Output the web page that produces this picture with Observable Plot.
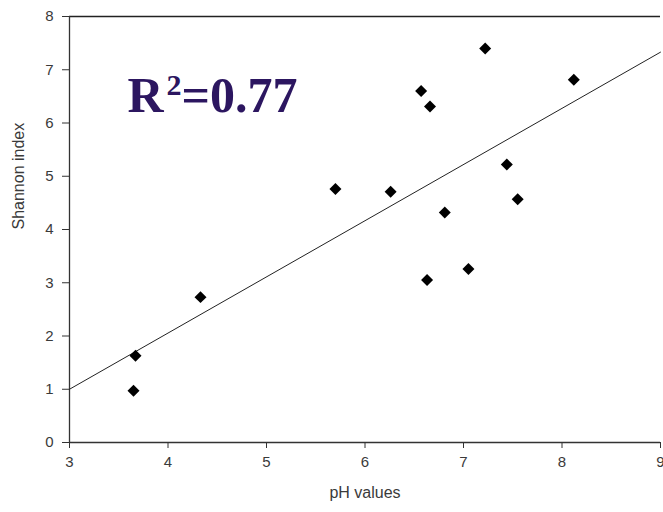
<!DOCTYPE html>
<html>
<head>
<meta charset="utf-8">
<script src="https://cdn.jsdelivr.net/npm/d3@7"></script>
<script src="https://cdn.jsdelivr.net/npm/@observablehq/plot@0.6"></script>
<style>
  html, body { margin: 0; padding: 0; background: #fff; overflow: hidden; }
  #chart svg { display: block; }
</style>
</head>
<body>
<div id="chart"></div>
<script>
// pH values (x) and Shannon index (y)
const phValues = [3.65, 3.67, 4.33, 5.70, 6.26, 6.57, 6.66, 6.63, 6.81, 7.05, 7.22, 7.44, 7.55, 8.12];
const shannon  = [0.97, 1.63, 2.73, 4.76, 4.71, 6.60, 6.31, 3.05, 4.32, 3.26, 7.40, 5.22, 4.57, 6.81];

// linear trend line endpoints
const trendX = [3, 9];
const trendY = [1.0, 7.33];

const xTicks = [3, 4, 5, 6, 7, 8, 9];
const yTicks = [0, 1, 2, 3, 4, 5, 6, 7, 8];

const points = phValues.map((x, i) => ({x, y: shannon[i]}));
const trend = trendX.map((x, i) => ({x, y: trendY[i]}));

const textColor = "#3a3a3a";
const axisColor = "#333";
const rColor = "#2c1660";
const serif = "Liberation Serif, Times New Roman, serif";

const chart = Plot.plot({
  width: 663,
  height: 512,
  marginLeft: 69,
  marginRight: 3,
  marginTop: 16,
  marginBottom: 70,
  style: {fontFamily: "Liberation Sans, Arial, sans-serif", background: "#fff", overflow: "visible"},
  x: {domain: [3, 9]},
  y: {domain: [0, 8]},
  marks: [
    Plot.ruleY([8], {stroke: "#222", strokeWidth: 1.3}),
    Plot.axisX({ticks: xTicks, tickFormat: "d", tickSize: 6, tickPadding: 8, fontSize: 15, color: textColor, stroke: axisColor, label: null}),
    Plot.axisY({ticks: yTicks, tickFormat: "d", tickSize: 7, tickPadding: 9, fontSize: 15, color: textColor, stroke: axisColor, label: null}),
    Plot.ruleY([0], {stroke: axisColor, strokeWidth: 1.3}),
    Plot.ruleX([3], {stroke: axisColor, strokeWidth: 1.3, y1: 0, y2: 8}),
    Plot.line(trend, {x: "x", y: "y", stroke: "#222", strokeWidth: 1}),
    Plot.dot(points, {x: "x", y: "y", symbol: "diamond2", r: 5.4, fill: "#000", stroke: "none"}),
    Plot.text(["R"], {frameAnchor: "top-left", lineAnchor: "middle", dx: 58, dy: 79, textAnchor: "start",
      fontSize: 50, fontWeight: "bold", fontFamily: serif, fill: rColor}),
    Plot.text(["2"], {frameAnchor: "top-left", lineAnchor: "middle", dx: 97, dy: 69, textAnchor: "start",
      fontSize: 30, fontWeight: "bold", fontFamily: serif, fill: rColor}),
    Plot.text(["=0.77"], {frameAnchor: "top-left", lineAnchor: "middle", dx: 112, dy: 79, textAnchor: "start",
      fontSize: 50, fontWeight: "bold", fontFamily: serif, fill: rColor}),
    Plot.text(["Shannon index"], {frameAnchor: "left", dx: -51, rotate: -90, fontSize: 16, fill: textColor}),
    Plot.text(["pH values"], {frameAnchor: "bottom", dy: 55, fontSize: 16, fill: textColor})
  ]
});
document.getElementById("chart").appendChild(chart);
</script>
</body>
</html>
